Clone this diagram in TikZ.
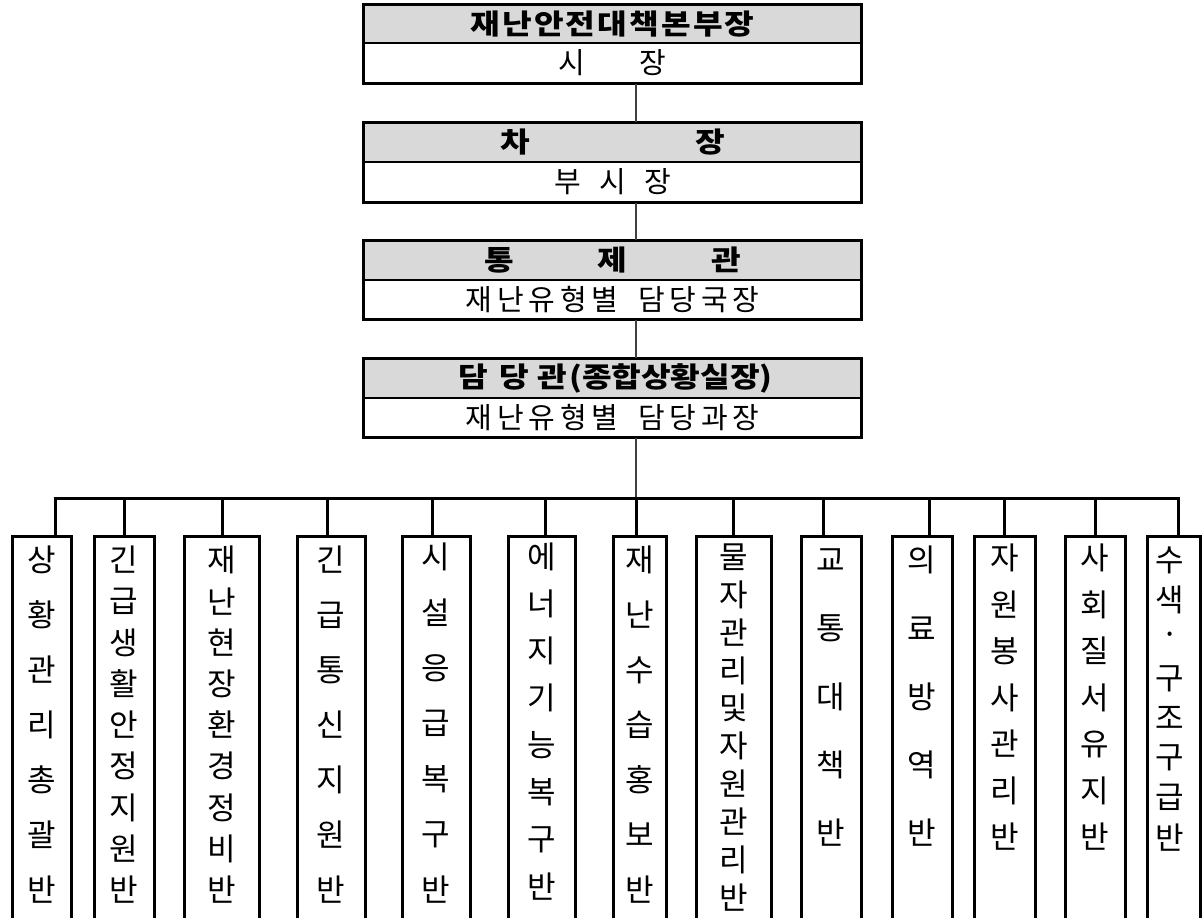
\documentclass[tikz,border=0pt]{standalone}
\usepackage{fontspec}
\newfontfamily\kr{Noto Sans CJK KR}
\newfontfamily\krhead{Noto Sans CJK KR}[BoldFeatures={FakeStretch=1.15}]
\definecolor{hdrgray}{HTML}{D9D9D9}
\newcommand\colchars[5]{%
  \foreach \c [count=\i] in {#5} {%
    \pgfmathsetmacro\yy{#3+(\i-1)*#4}%
    \node[ch] (#1-\i) at (#2,\yy) {\c};
  }}
\newcommand\spread[2]{\foreach \c in {#2}{\makebox[#1]{\c}}}
\begin{document}
\begin{tikzpicture}[x=1pt,y=-1pt,
  hdr/.style={draw=black, line width=1.2pt, fill=hdrgray, minimum width=497pt, inner sep=0pt, font=\krhead\bfseries\fontsize{28}{28}\selectfont},
  sub/.style={draw=black, line width=1.2pt, fill=white, minimum width=497pt, minimum height=40pt, inner sep=0pt, font=\kr\fontsize{29}{29}\selectfont},
  outer/.style={line width=3pt},
  link/.style={draw=black!75, line width=1.2pt},
  bus/.style={line width=3pt},
  colbox/.style={draw, line width=3pt, anchor=north, inner sep=0pt, minimum height=420pt},
  ch/.style={font=\kr\fontsize{31}{31}\selectfont, inner sep=0pt}
]
\useasboundingbox (0,0) rectangle (1202,918);
\clip (0,0) rectangle (1202,918);

% top boxes
\node[hdr, minimum height=38pt] (h1) at (612.5,24) {\spread{31.8pt}{재,난,안,전,대,책,본,부,장}};
\node[sub] (s1) at (612.5,63) {\spread{80.5pt}{시,장}};
\draw[outer] (h1.north west) rectangle (s1.south east);

\node[hdr, minimum height=39pt] (h2) at (612.5,142.5) {\spread{195pt}{차,장}};
\node[sub] (s2) at (612.5,182) {\spread{45pt}{부,시,장}};
\draw[outer] (h2.north west) rectangle (s2.south east);

\node[hdr, minimum height=39pt] (h3) at (612.5,260.5) {\spread{113.5pt}{통,제,관}};
\node[sub, minimum height=39pt] (s3) at (612.5,299.5) {\spread{31.5pt}{재,난,유,형,별}\hspace{15pt}\spread{31.5pt}{담,당,국,장}};
\draw[outer] (h3.north west) rectangle (s3.south east);

\node[hdr, minimum height=39pt] (h4) at (612.5,378.5) {\spread{41.5pt}{담,당}\makebox[34pt]{관}(종합상황실장)};
\node[sub, minimum height=39pt] (s4) at (612.5,417.5) {\spread{31.5pt}{재,난,유,형,별}\hspace{15pt}\spread{31.5pt}{담,당,과,장}};
\draw[outer] (h4.north west) rectangle (s4.south east);

\coordinate (bus) at (636,498);
\draw[link] (s1.south -| bus) -- (h2.north -| bus);
\draw[link] (s2.south -| bus) -- (h3.north -| bus);
\draw[link] (s3.south -| bus) -- (h4.north -| bus);
\draw[link] (s4.south -| bus) -- (bus);

% column boxes
\node[colbox, minimum width=59pt] (c1) at (41.5,535) {};
\node[colbox, minimum width=60pt] (c2) at (124,535) {};
\node[colbox, minimum width=75pt] (c3) at (221.5,535) {};
\node[colbox, minimum width=68pt] (c4) at (331,535) {};
\node[colbox, minimum width=68pt] (c5) at (436,535) {};
\node[colbox, minimum width=67pt] (c6) at (541.5,535) {};
\node[colbox, minimum width=53pt] (c7) at (639.5,535) {};
\node[colbox, minimum width=75pt] (c8) at (733.5,535) {};
\node[colbox, minimum width=60pt] (c9) at (831,535) {};
\node[colbox, minimum width=60pt] (c10) at (922,535) {};
\node[colbox, minimum width=61pt] (c11) at (1004.5,535) {};
\node[colbox, minimum width=60pt] (c12) at (1095,535) {};
\node[colbox, minimum width=53pt] (c13) at (1173.5,535) {};

% bus and drops
\foreach \k/\x in {1/55,2/124,3/222,4/327,5/432,6/545,7/636,8/733,9/823,10/929,11/1004,12/1095,13/1178}{
  \coordinate (d\k) at (\x,498);
  \draw[bus] (d\k) -- (d\k |- c\k.north);
}
\draw[bus] ([xshift=-1.5pt]d1) -- ([xshift=1.5pt]d13);

% column texts
\colchars{t1}{41.5}{560}{55}{상,황,관,리,총,괄,반}
\colchars{t2}{124}{560}{41.25}{긴,급,생,활,안,정,지,원,반}
\colchars{t3}{221.5}{560}{41.25}{재,난,현,장,환,경,정,비,반}
\colchars{t4}{331}{560}{55}{긴,급,통,신,지,원,반}
\colchars{t5}{436}{557}{55.5}{시,설,응,급,복,구,반}
\colchars{t6}{541.5}{557}{47.1}{에,너,지,기,능,복,구,반}
\colchars{t7}{639.5}{560}{55}{재,난,수,습,홍,보,반}
\colchars{t8}{733.5}{557}{37.8}{물,자,관,리,및,자,원,관,리,반}
\colchars{t9}{831}{560}{68.25}{교,통,대,책,반}
\colchars{t10}{922}{560}{68.25}{의,료,방,역,반}
\colchars{t11}{1004.5}{558}{46.5}{자,원,봉,사,관,리,반}
\colchars{t12}{1095}{558}{46.5}{사,회,질,서,유,지,반}
\colchars{t13}{1170}{560}{39.6}{수,색,·,구,조,구,급,반}
\end{tikzpicture}
\end{document}
